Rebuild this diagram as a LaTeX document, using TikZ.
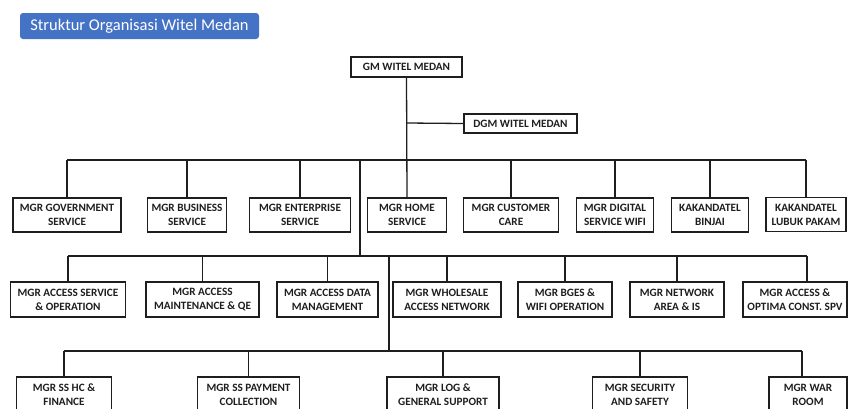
\documentclass[tikz,border=0pt]{standalone}
\usepackage{fontspec}
\setmainfont{Carlito}[BoldFont={Carlito Bold}]
\definecolor{titleblue}{RGB}{68,114,196}
\definecolor{ink}{RGB}{30,30,30}
\tikzset{
  orgbox/.style={draw=ink, line width=1.3pt, fill=white, inner sep=0pt, align=center,
    font=\bfseries\fontsize{11.2}{14}\selectfont, text=ink},
  wire/.style={draw=ink, line width=1.3pt},
}
\begin{document}
\begin{tikzpicture}[x=1pt,y=-1pt]
\clip (0,0) rectangle (848,408);
\fill[white] (0,0) rectangle (848,408);
% title
\node[fill=titleblue, rounded corners=3pt, text=white, font=\fontsize{16.5}{18}\selectfont,
  minimum width=239pt, minimum height=26pt, inner sep=0pt] (title) at (139.5,26) {Struktur Organisasi Witel Medan};
% top
\node[orgbox, minimum width=111pt, minimum height=20pt] (gm) at (406.5,67) {GM WITEL MEDAN};
\node[orgbox, minimum width=113pt, minimum height=19pt] (dgm) at (520.5,123.5) {DGM WITEL MEDAN};
% row 1
\node[orgbox, minimum width=108pt, minimum height=34pt] (a1) at (67,215) {MGR GOVERNMENT\\SERVICE};
\node[orgbox, minimum width=79pt, minimum height=34pt] (a2) at (187,215) {MGR BUSINESS\\SERVICE};
\node[orgbox, minimum width=101pt, minimum height=34pt] (a3) at (300,215) {MGR ENTERPRISE\\SERVICE};
\node[orgbox, minimum width=79pt, minimum height=34pt] (a4) at (407,215) {MGR HOME\\SERVICE};
\node[orgbox, minimum width=95pt, minimum height=34pt] (a5) at (511,215) {MGR CUSTOMER\\CARE};
\node[orgbox, minimum width=77pt, minimum height=34pt] (a6) at (615,215) {MGR DIGITAL\\SERVICE WIFI};
\node[orgbox, minimum width=77pt, minimum height=34pt] (a7) at (710,215) {KAKANDATEL\\BINJAI};
\node[orgbox, minimum width=80pt, minimum height=34pt] (a8) at (806,214.5) {KAKANDATEL\\LUBUK PAKAM};
% row 2
\node[orgbox, minimum width=115pt, minimum height=35pt] (b1) at (68,299.5) {MGR ACCESS SERVICE\\\& OPERATION};
\node[orgbox, minimum width=113pt, minimum height=35pt] (b2) at (202.5,299.5) {MGR ACCESS\\MAINTENANCE \& QE};
\node[orgbox, minimum width=101pt, minimum height=35pt] (b3) at (327.5,299.5) {MGR ACCESS DATA\\MANAGEMENT};
\node[orgbox, minimum width=108pt, minimum height=35pt] (b4) at (447,299.5) {MGR WHOLESALE\\ACCESS NETWORK};
\node[orgbox, minimum width=94pt, minimum height=35pt] (b5) at (565,299.5) {MGR BGES \&\\WIFI OPERATION};
\node[orgbox, minimum width=94pt, minimum height=35pt] (b6) at (677,299.5) {MGR NETWORK\\AREA \& IS};
\node[orgbox, minimum width=104pt, minimum height=35pt] (b7) at (795,299.5) {MGR ACCESS \&\\OPTIMA CONST. SPV};
% row 3
\node[orgbox, minimum width=95pt, minimum height=36pt] (c1) at (64,395) {MGR SS HC \&\\FINANCE};
\node[orgbox, minimum width=102pt, minimum height=36pt] (c2) at (248.5,395) {MGR SS PAYMENT\\COLLECTION};
\node[orgbox, minimum width=112pt, minimum height=36pt] (c3) at (443,395) {MGR LOG \&\\GENERAL SUPPORT};
\node[orgbox, minimum width=95pt, minimum height=36pt] (c4) at (640,395) {MGR SECURITY\\AND SAFETY};
\node[orgbox, minimum width=78pt, minimum height=36pt] (c5) at (808,395) {MGR WAR\\ROOM};
% junction coordinates
\coordinate (j0) at (407,123);
\coordinate (r1) at (407,160);
\coordinate (r1l) at (67,160);
\coordinate (r1r) at (806,160);
\coordinate (s1) at (360,160);
\coordinate (s2) at (360,256);
\coordinate (r2l) at (68,256);
\coordinate (r2r) at (807,256);
\coordinate (t1) at (389,256);
\coordinate (t2) at (389,351);
\coordinate (r3l) at (64,351);
\coordinate (r3r) at (802,351);
\draw[wire] (gm.south) -- (a4.north);
\draw[wire] (j0) -- (dgm.west);
\draw[wire] (r1l) -- (r1r);
\foreach \n in {a1,a2,a3,a5,a6,a7,a8} \draw[wire] (\n.north |- r1) -- (\n.north);
\draw[wire] (s1) -- (s2);
\draw[wire] (r2l) -- (r2r);
\foreach \n in {b1,b2,b3,b4,b5,b6} \draw[wire] (\n.north |- s2) -- (\n.north);
\draw[wire] (r2r) -- (r2r |- b7.north);
\draw[wire] (t1) -- (t2);
\draw[wire] (r3l) -- (r3r);
\foreach \n in {c1,c2,c3,c4} \draw[wire] (\n.north |- t2) -- (\n.north);
\draw[wire] (r3r) -- (r3r |- c5.north);
\end{tikzpicture}
\end{document}
